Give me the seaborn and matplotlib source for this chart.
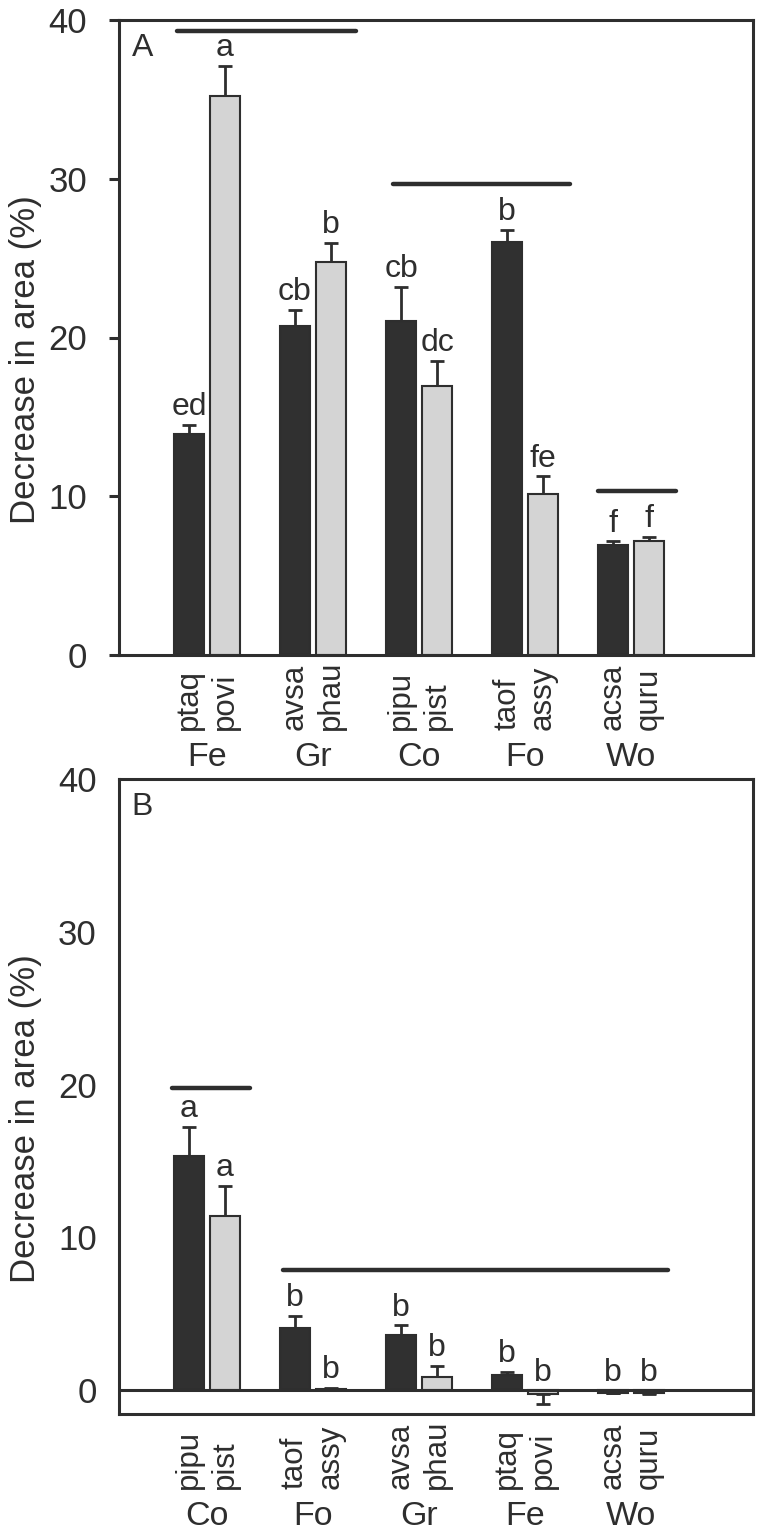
import numpy as np
import pandas as pd
import matplotlib
matplotlib.use("Agg")
import matplotlib.pyplot as plt
from matplotlib.transforms import offset_copy
import seaborn as sns

# ---------------- data ----------------
groups_A = ["Fe", "Gr", "Co", "Fo", "Wo"]
species_A = ["ptaq", "povi", "avsa", "phau", "pipu", "pist", "taof", "assy", "acsa", "quru"]
mean_A = [13.9, 35.2, 20.7, 24.75, 21.05, 16.95, 26.0, 10.15, 6.9, 7.2]
se_A = [0.6, 1.9, 1.05, 1.2, 2.15, 1.6, 0.8, 1.1, 0.25, 0.25]
letters_A = ["ed", "a", "cb", "b", "cb", "dc", "b", "fe", "f", "f"]
# significance bars: (x start, x end, y) in data units
sig_A_x0 = [-0.28, 1.75, 3.69]
sig_A_x1 = [1.41, 3.42, 4.42]
sig_A_y = [39.3, 29.65, 10.3]

groups_B = ["Co", "Fo", "Gr", "Fe", "Wo"]
species_B = ["pipu", "pist", "taof", "assy", "avsa", "phau", "ptaq", "povi", "acsa", "quru"]
mean_B = [15.35, 11.4, 4.1, 0.1, 3.6, 0.87, 1.0, -0.22, -0.15, -0.18]
se_B = [1.9, 2.0, 0.75, 0.05, 0.65, 0.75, 0.2, 0.7, 0.05, 0.05]
letters_B = ["a", "a", "b", "b", "b", "b", "b", "b", "b", "b"]
sig_B_x0 = [-0.33, 0.72]
sig_B_x1 = [0.41, 4.35]
sig_B_y = [19.76, 7.84]

yticks = [0, 10, 20, 30, 40]
slots = ["first", "second"]

# ---------------- style ----------------
sns.set_style("ticks")
plt.rcParams["font.family"] = ["Liberation Sans", "DejaVu Sans"]
INK = "#2e2e2e"
DARK = "#303030"
LIGHT = "#d4d4d4"

fig = plt.figure(figsize=(7.64, 15.35), dpi=100)
axA = fig.add_axes([119 / 764, 1 - 655 / 1535, 634 / 764, 635 / 1535])
axB = fig.add_axes([119 / 764, 1 - 1414 / 1535, 634 / 764, 635 / 1535])


def draw_panel(ax, groups, species, means, ses, letters, sx0, sx1, sy,
               ylim, panel, ticklen, zero_line):
    df = pd.DataFrame({
        "group": np.repeat(groups, 2),
        "slot": slots * len(groups),
        "value": means,
        "species": species,
    })
    sns.barplot(data=df, x="group", y="value", hue="slot", order=groups,
                hue_order=slots, palette=[DARK, LIGHT], saturation=1,
                width=0.68, gap=0.17, edgecolor=INK, linewidth=1.5,
                errorbar=None, legend=False, ax=ax, zorder=2)
    bars = sorted(ax.patches, key=lambda p: p.get_x())
    xs = np.array([p.get_x() + p.get_width() / 2 for p in bars])
    m = np.array(means)
    s = np.array(ses)
    lower = np.where(m < 0, s, 0)
    upper = np.where(m >= 0, s, 0)
    ax.errorbar(xs, m, yerr=[lower, upper], fmt="none", ecolor=INK,
                elinewidth=2.0, capsize=5, capthick=2.0, zorder=1)

    # letters above bars
    for x, mv, sv, lab in zip(xs, m, s, letters):
        top = mv + sv if mv >= 0 else 0
        ax.annotate(lab, (x, top), xytext=(0, 7), textcoords="offset points",
                    ha="center", va="baseline", fontsize=23, color=INK)

    # significance bars
    for a, b, y in zip(sx0, sx1, sy):
        ax.plot([a, b], [y, y], color=INK, lw=3.2, solid_capstyle="round",
                clip_on=False, zorder=4)

    if zero_line:
        ax.axhline(0, color=INK, lw=2.2, zorder=3)

    ax.set_xlim(-0.83, 5.15)
    ax.set_ylim(*ylim)
    ax.set_yticks(yticks)
    ax.set_xticks([])
    ax.set_xlabel("")
    ax.tick_params(axis="y", length=ticklen, width=2.2, pad=16,
                   labelsize=25, color=INK, labelcolor=INK, direction="out")
    for sp in ax.spines.values():
        sp.set_linewidth(2.2)
        sp.set_color(INK)
        sp.set_visible(True)

    ax.set_ylabel("Decrease in area (%)", fontsize=25, color=INK)
    ax.yaxis.set_label_coords(-0.121, 0.465)

    # species labels (rotated) and group labels below the axis
    tr_sp = offset_copy(ax.get_xaxis_transform(), fig=fig, y=-54, units="points")
    for x, lab in zip(xs, species):
        ax.text(x, 0, lab, transform=tr_sp, rotation=90, ha="center",
                va="bottom", fontsize=22.5, color=INK)
    tr_gr = offset_copy(ax.get_xaxis_transform(), fig=fig, y=-80, units="points")
    for i, g in enumerate(groups):
        ax.text(i, 0, g, transform=tr_gr, ha="center", va="baseline",
                fontsize=24.5, color=INK)

    ax.text(0.02, 1 - 13 / 635, panel, transform=ax.transAxes, ha="left",
            va="top", fontsize=23, color=INK)


draw_panel(axA, groups_A, species_A, mean_A, se_A, letters_A,
           sig_A_x0, sig_A_x1, sig_A_y, (0, 40), "A", 7, False)
draw_panel(axB, groups_B, species_B, mean_B, se_B, letters_B,
           sig_B_x0, sig_B_x1, sig_B_y, (-1.55, 40), "B", 0, True)

fig.savefig("out.png", dpi=100)
